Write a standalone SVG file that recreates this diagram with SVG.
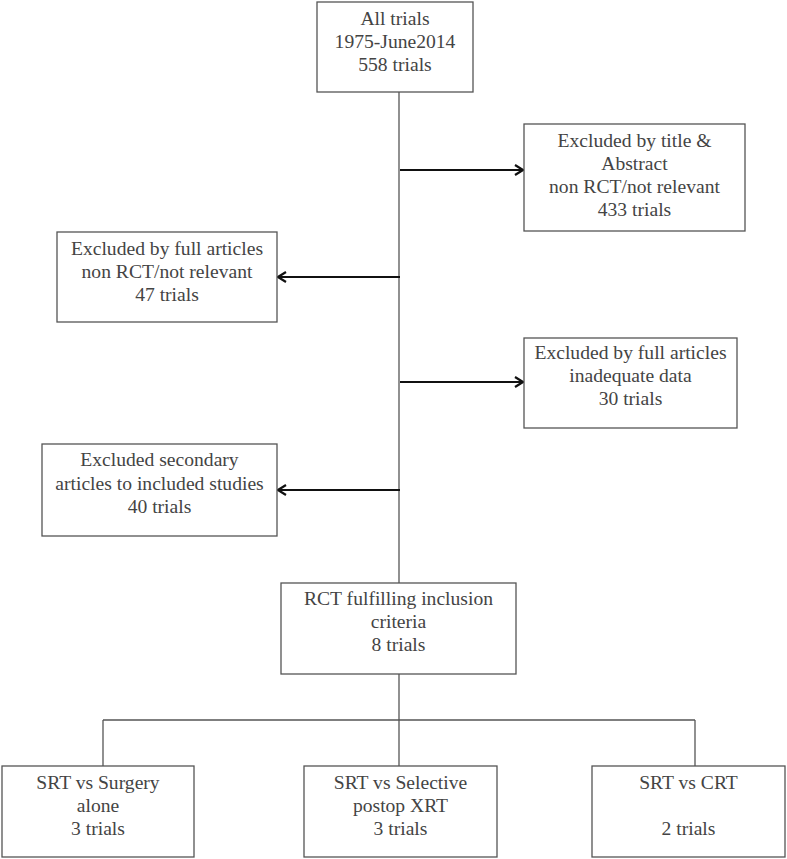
<svg xmlns="http://www.w3.org/2000/svg" width="787" height="859" viewBox="0 0 787 859">
<defs>
<style>
.box{fill:#fff;stroke:#555;stroke-width:1.3}
.t{font-family:"Liberation Serif","Times New Roman",serif;font-size:19.6px;fill:#444;text-anchor:middle}
.ln{fill:none;stroke:#555;stroke-width:1.3}
.ar{fill:none;stroke:#111;stroke-width:1.8;marker-end:url(#ah)}
</style>
<marker id="ah" viewBox="0 0 10 12" refX="9" refY="6" markerWidth="10" markerHeight="12" markerUnits="userSpaceOnUse" orient="auto">
<path d="M1,1 L9,6 L1,11" fill="none" stroke="#111" stroke-width="2.2"/>
</marker>
</defs>
<rect width="787" height="859" fill="#fff"/>
<g id="connectors">
<line class="ln" x1="399" y1="92" x2="399" y2="583"/>
<line class="ln" x1="399" y1="674" x2="399" y2="766"/>
<line class="ln" x1="103" y1="720" x2="695" y2="720"/>
<line class="ln" x1="103" y1="720" x2="103" y2="766"/>
<line class="ln" x1="695" y1="720" x2="695" y2="766"/>
<line class="ar" x1="400" y1="170" x2="523" y2="170"/>
<line class="ar" x1="400" y1="277" x2="278" y2="277"/>
<line class="ar" x1="400" y1="382" x2="523" y2="382"/>
<line class="ar" x1="400" y1="490" x2="278" y2="490"/>
</g>
<g id="n-all">
<rect class="box" x="317" y="2" width="156" height="90"/>
<text class="t" x="395" y="25">All trials</text>
<text class="t" x="395" y="48">1975-June2014</text>
<text class="t" x="395" y="71">558 trials</text>
</g>
<g id="n-title">
<rect class="box" x="524" y="124" width="221" height="107"/>
<text class="t" x="634.5" y="147">Excluded by title &amp;</text>
<text class="t" x="634.5" y="170">Abstract</text>
<text class="t" x="634.5" y="193">non RCT/not relevant</text>
<text class="t" x="634.5" y="216">433 trials</text>
</g>
<g id="n-full47">
<rect class="box" x="57" y="232" width="220" height="90"/>
<text class="t" x="167" y="255">Excluded by full articles</text>
<text class="t" x="167" y="278">non RCT/not relevant</text>
<text class="t" x="167" y="301">47 trials</text>
</g>
<g id="n-full30">
<rect class="box" x="524" y="338" width="213" height="90"/>
<text class="t" x="630.5" y="359">Excluded by full articles</text>
<text class="t" x="630.5" y="382">inadequate data</text>
<text class="t" x="630.5" y="405">30 trials</text>
</g>
<g id="n-secondary">
<rect class="box" x="42" y="444" width="235" height="92"/>
<text class="t" x="159.5" y="466">Excluded secondary</text>
<text class="t" x="159.5" y="490">articles to included studies</text>
<text class="t" x="159.5" y="513">40 trials</text>
</g>
<g id="n-rct">
<rect class="box" x="281" y="583" width="235" height="91"/>
<text class="t" x="398.5" y="605">RCT fulfilling inclusion</text>
<text class="t" x="398.5" y="628">criteria</text>
<text class="t" x="398.5" y="651">8 trials</text>
</g>
<g id="n-surgery">
<rect class="box" x="2" y="766" width="192" height="91"/>
<text class="t" x="98" y="789">SRT vs Surgery</text>
<text class="t" x="98" y="812">alone</text>
<text class="t" x="98" y="835">3 trials</text>
</g>
<g id="n-selective">
<rect class="box" x="304" y="766" width="193" height="91"/>
<text class="t" x="400.5" y="789">SRT vs Selective</text>
<text class="t" x="400.5" y="812">postop XRT</text>
<text class="t" x="400.5" y="835">3 trials</text>
</g>
<g id="n-crt">
<rect class="box" x="592" y="766" width="193" height="91"/>
<text class="t" x="688.5" y="789">SRT vs CRT</text>
<text class="t" x="688.5" y="835">2 trials</text>
</g>
</svg>
